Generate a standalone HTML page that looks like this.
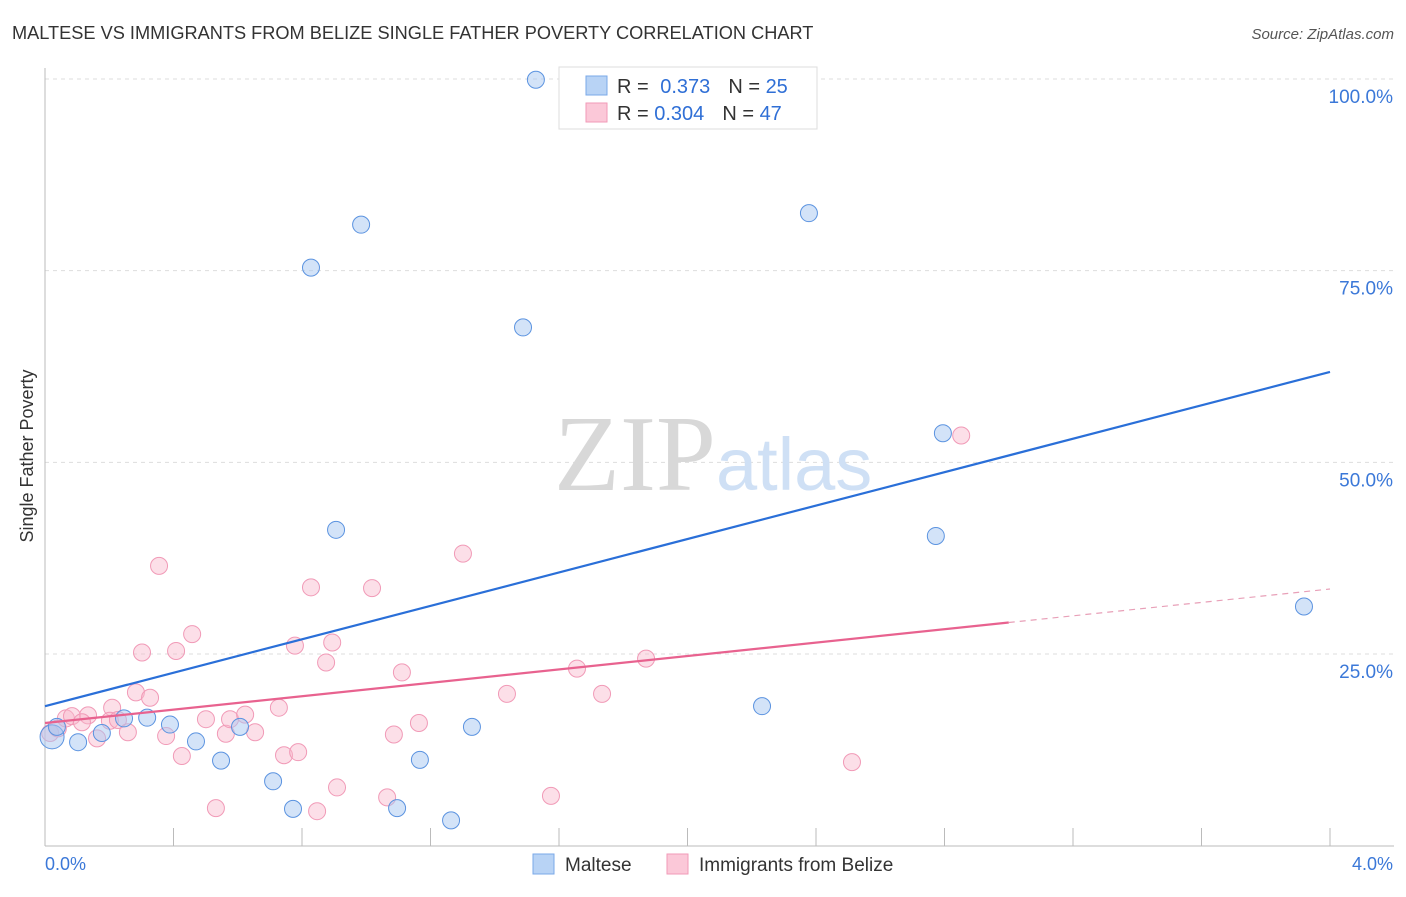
<!DOCTYPE html>
<html><head><meta charset="utf-8"><style>
body{margin:0;background:#fff;font-family:"Liberation Sans",sans-serif;}
</style></head><body>
<svg width="1406" height="892" xmlns="http://www.w3.org/2000/svg" font-family="Liberation Sans, sans-serif">
<text x="12" y="39" font-size="18.2" fill="#333">MALTESE VS IMMIGRANTS FROM BELIZE SINGLE FATHER POVERTY CORRELATION CHART</text>
<text x="1394" y="39" font-size="15" fill="#555" font-style="italic" text-anchor="end">Source: ZipAtlas.com</text>
<text x="33" y="456" font-size="18" fill="#333" text-anchor="middle" transform="rotate(-90 33 456)">Single Father Poverty</text>
<g id="grid"></g>
<text x="716" y="490" font-size="108" fill="#d8d8d8" text-anchor="end" font-family="Liberation Serif, serif">ZIP</text>
<text x="716" y="490" font-size="74" fill="#cfe0f5">atlas</text>
<g id="marks"></g>
<g>
<rect x="559" y="67" width="258" height="62" fill="#fff" stroke="#ddd"/>
<rect x="586" y="76" width="21" height="19" fill="#b8d3f5" stroke="#7aa8e8"/>
<rect x="586" y="103" width="21" height="19" fill="#fbc8d8" stroke="#f19ab7"/>
<text x="617" y="93" font-size="20" fill="#333">R = <tspan fill="#2f6fd6" dx="6">0.373</tspan><tspan dx="18" fill="#333">N = </tspan><tspan fill="#2f6fd6">25</tspan></text>
<text x="617" y="120" font-size="20" fill="#333">R = <tspan fill="#2f6fd6">0.304</tspan><tspan dx="18" fill="#333">N = </tspan><tspan fill="#2f6fd6">47</tspan></text>
</g>
<text x="45" y="870" font-size="18" fill="#3b78d8">0.0%</text>
<text x="1393" y="870" font-size="18" fill="#3b78d8" text-anchor="end">4.0%</text>
<g>
<rect x="533" y="854" width="21" height="20" fill="#b8d3f5" stroke="#7aa8e8"/>
<text x="565" y="871" font-size="19" fill="#333">Maltese</text>
<rect x="667" y="854" width="21" height="20" fill="#fbc8d8" stroke="#f19ab7"/>
<text x="699" y="871" font-size="19" fill="#333">Immigrants from Belize</text>
</g>
</svg>
<script>
const yTicks=[25,50,75,100];
const yTickLabels=["25.0%","50.0%","75.0%","100.0%"];
const xTicks=[0,0.4,0.8,1.2,1.6,2.0,2.4,2.8,3.2,3.6,4.0];
const malteseX=[0.022,0.037,0.103,0.177,0.246,0.318,0.389,0.470,0.548,0.607,0.710,0.772,0.828,0.906,0.984,1.096,1.167,1.264,1.329,1.488,1.528,2.232,2.378,2.773,2.795,3.919];
const malteseY=[14.2,15.5,13.5,14.7,16.6,16.7,15.8,13.6,11.1,15.5,8.4,4.8,75.4,41.2,81.0,4.9,11.2,3.3,15.5,67.6,99.9,18.2,82.5,40.4,53.8,31.2];
const belizeX=[0.016,0.040,0.065,0.084,0.134,0.115,0.162,0.209,0.202,0.227,0.258,0.283,0.302,0.327,0.355,0.377,0.408,0.426,0.458,0.501,0.532,0.563,0.576,0.623,0.654,0.728,0.744,0.778,0.788,0.828,0.847,0.875,0.894,0.909,1.018,1.065,1.086,1.111,1.164,1.301,1.438,1.575,1.656,1.734,1.871,2.512,2.852];
const belizeY=[14.7,15.3,16.6,16.9,17.0,16.1,14.0,18.0,16.3,16.4,14.8,20.0,25.2,19.3,36.5,14.3,25.4,11.7,27.6,16.5,4.9,14.6,16.5,17.1,14.8,18.0,11.8,26.1,12.2,33.7,4.5,23.9,26.5,7.6,33.6,6.3,14.5,22.6,16.0,38.1,19.8,6.5,23.1,19.8,24.4,10.9,53.5];
const blueFit=[18.2,10.9];
const pinkFit=[16.0,4.37];
const X=v=>45+v/4*1285, Y=v=>845.7-v*7.667;
const NS="http://www.w3.org/2000/svg";
const mk=(t,a,p)=>{const e=document.createElementNS(NS,t);for(const k in a)e.setAttribute(k,a[k]);p.appendChild(e);return e;};
const grid=document.getElementById('grid');
yTicks.forEach((t,i)=>{
 const l=mk('line',{x1:45,x2:1394,y1:Y(t),y2:Y(t),stroke:'#ddd','stroke-dasharray':'4 4'},grid);
 
 
 const tx=mk('text',{x:1393,y:Y(t)+24,'font-size':19,fill:'#3b78d8','text-anchor':'end'},grid);
 tx.textContent=yTickLabels[i];
 
 
});
const ax=mk('line',{x1:45,x2:45,y1:68,y2:846,stroke:'#bbb'},grid);


const bx=mk('line',{x1:45,x2:1394,y1:846,y2:846,stroke:'#bbb'},grid);


xTicks.forEach(t=>{
 const l=mk('line',{x1:X(t),x2:X(t),y1:828,y2:846,stroke:'#bbb'},grid);
 
 
});
const marks=document.getElementById('marks');
belizeX.forEach((x,i)=>{
 const c=mk('circle',{cx:X(x),cy:Y(belizeY[i]),r:8.5,fill:'rgba(249,183,203,0.45)',stroke:'#f19ab7','stroke-width':1},marks);
 
 
});
malteseX.forEach((x,i)=>{
 const c=mk('circle',{cx:X(x),cy:Y(malteseY[i]),r:i==0?12:8.5,fill:'rgba(168,200,242,0.5)',stroke:'#5b93e0','stroke-width':1},marks);
 
 
});
const bl=mk('line',{x1:X(0),y1:Y(blueFit[0]),x2:X(4),y2:Y(blueFit[0]+4*blueFit[1]),stroke:'#2a6fd8','stroke-width':2.2},marks);


const pl=mk('line',{x1:X(0),y1:Y(pinkFit[0]),x2:X(3),y2:Y(pinkFit[0]+3*pinkFit[1]),stroke:'#e8628f','stroke-width':2.2},marks);


const pd=mk('line',{x1:X(3),y1:Y(pinkFit[0]+3*pinkFit[1]),x2:X(4),y2:Y(pinkFit[0]+4*pinkFit[1]),stroke:'#e8a0b8','stroke-width':1.2,'stroke-dasharray':'6 5'},marks);


</script>
</body></html>
